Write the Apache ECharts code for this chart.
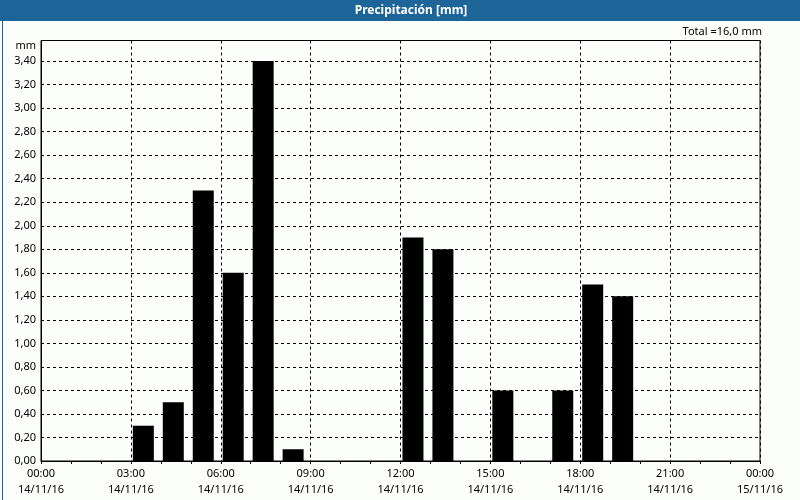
<!DOCTYPE html>
<html><head><meta charset="utf-8">
<script src="https://cdn.jsdelivr.net/npm/echarts@6/dist/echarts.min.js"></script>
<style>html,body{margin:0;padding:0;background:#fff}#c{width:800px;height:500px}</style>
</head><body><div id="c"></div>
<script>
// Data
var hourCategories = [];
for (var i = 0; i < 24; i++) hourCategories.push((i < 10 ? '0' : '') + i + ':00');
var rainHours = [3, 4, 5, 6, 7, 8, 12, 13, 15, 17, 18, 19];
var rainValues = [0.30, 0.50, 2.30, 1.60, 3.40, 0.10, 1.90, 1.80, 0.60, 0.60, 1.50, 1.40];
var tickTimes = ['00:00', '03:00', '06:00', '09:00', '12:00', '15:00', '18:00', '21:00', '00:00'];
var tickDates = ['14/11/16', '14/11/16', '14/11/16', '14/11/16', '14/11/16', '14/11/16', '14/11/16', '14/11/16', '15/11/16'];
var titleText = 'Precipitación [mm]';
var totalText = 'Total =16,0 mm';

var barData = hourCategories.map(function () { return null; });
rainHours.forEach(function (h, i) { barData[h] = rainValues[i]; });

var font = 'Noto Sans';
var chart = echarts.init(document.getElementById('c'), null, { renderer: 'canvas' });
chart.setOption({
  backgroundColor: '#fcfefc',
  animation: false,
  grid: { left: 41, top: 40.5, right: 40, bottom: 39, show: true, borderColor: '#000', borderWidth: 1, backgroundColor: 'transparent' },
  xAxis: [{
    type: 'value', min: 0, max: 24, interval: 3,
    axisLine: { show: true, lineStyle: { color: '#000' } },
    axisTick: { show: true, length: 3, lineStyle: { color: '#000' } },
    minorTick: { show: true, splitNumber: 3, length: 3, lineStyle: { color: '#000' } },
    splitLine: { show: true, lineStyle: { color: '#000', type: [3, 3] } },
    axisLabel: {
      color: '#000', fontFamily: font, fontSize: 11, lineHeight: 16, margin: 5,
      formatter: function (v) { var k = Math.round(v / 3); return tickTimes[k] + '\n' + tickDates[k]; }
    }
  }, {
    type: 'category', data: hourCategories, show: false, boundaryGap: true
  }],
  yAxis: {
    type: 'value', min: 0, max: 3.575, interval: 0.2,
    axisLine: { show: true, lineStyle: { color: '#000' } },
    axisTick: { show: false },
    splitLine: { show: true, lineStyle: { color: '#000', type: [3, 3] } },
    axisLabel: {
      color: '#000', fontFamily: font, fontSize: 11, margin: 5, showMaxLabel: false,
      formatter: function (v) { return v > 3.45 ? '' : v.toFixed(2).replace('.', ','); }
    }
  },
  series: [{
    type: 'bar', xAxisIndex: 1, data: barData, barWidth: 21, barGap: '-76%',
    itemStyle: { color: '#000' }
  }, {
    type: 'bar', xAxisIndex: 1, data: [], barWidth: 21, barGap: '-76%'
  }],
  graphic: [
    { type: 'rect', left: 0, top: 0, shape: { width: 800, height: 21 }, style: { fill: '#1d6499' }, silent: true },
    { type: 'rect', left: 0, top: 0, shape: { x: 0.5, y: 0.5, width: 799, height: 499 }, style: { fill: null, stroke: '#1d6499', lineWidth: 1 }, silent: true },
    { type: 'text', x: 411, y: 11, style: { text: titleText, fill: '#fff', font: 'bold 12px "' + font + '"', textAlign: 'center', textVerticalAlign: 'middle' } },
    { type: 'text', x: 762, y: 32, style: { text: totalText, fill: '#000', font: '11px "' + font + '"', textAlign: 'right', textVerticalAlign: 'middle' } },
    { type: 'text', x: 36, y: 46, style: { text: 'mm', fill: '#000', font: '11px "' + font + '"', textAlign: 'right', textVerticalAlign: 'middle' } }
  ]
});
</script></body></html>
